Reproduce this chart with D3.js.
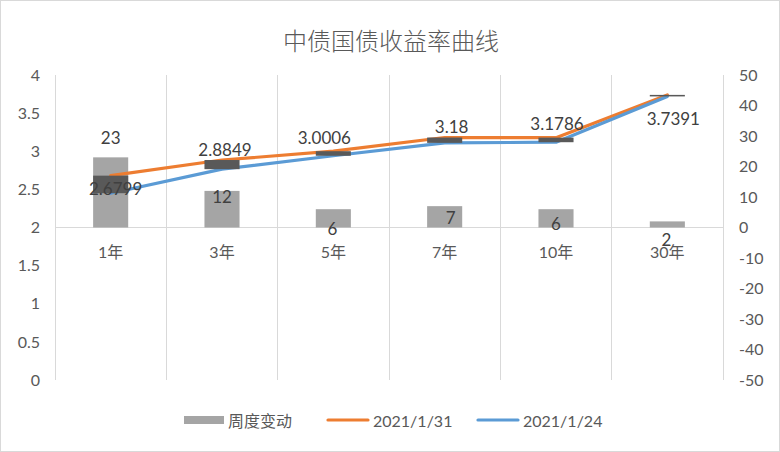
<!DOCTYPE html>
<html><head><meta charset="utf-8">
<script src="https://cdn.jsdelivr.net/npm/d3@7"></script>
<style>
html,body{margin:0;padding:0;background:#fff;}
text{font-family:Lato,"Noto Sans CJK SC",sans-serif;}
</style></head>
<body><svg id="c" width="780" height="452"></svg>
<script>
const categories = ["1年","3年","5年","7年","10年","30年"];
const weeklyChange = [23, 12, 6, 7, 6, 2];
const yield0131 = [2.6799, 2.8849, 3.0006, 3.18, 3.1786, 3.7391];
const yield0124 = [2.4499, 2.7649, 2.9406, 3.11, 3.1186, 3.7191];
const leftTicks = [0,0.5,1,1.5,2,2.5,3,3.5,4];
const rightTicks = [-50,-40,-30,-20,-10,0,10,20,30,40,50];
const seriesNames = ["周度变动","2021/1/31","2021/1/24"];
const title = "中债国债收益率曲线";

// label layout offsets (style, not data)
const lineLabelOffset = [[5,13],[3,-11],[-9,-14],[7,-11],[1,-14],[6,24]];
const barLabelOffset = [[0,-20],[0,6],[-1,19],[6,11],[0,14],[-1,18]];

const svg = d3.select("#c");
svg.append("rect").attr("x",0.5).attr("y",0.5).attr("width",779).attr("height",451)
  .attr("fill","#fff").attr("stroke","#d9d9d9");

const L=55, R=723, T=75, B=380;
const x = d3.scaleBand().domain(categories).range([L,R]).padding(0);
const yL = d3.scaleLinear().domain([0,4]).range([B,T]);
const yR = d3.scaleLinear().domain([-50,50]).range([B,T]);
const cx = c => x(c) + x.bandwidth()/2;
const bw = x.bandwidth()*0.315;
const grid="#d9d9d9", textC="#595959";
const fs = "16px";

// vertical gridlines at category boundaries
const bounds = categories.map(c=>x(c)).concat([R]);
svg.append("g").selectAll("line").data(bounds).join("line")
  .attr("x1",d=>d).attr("x2",d=>d).attr("y1",T).attr("y2",B)
  .attr("stroke",grid).attr("stroke-width",1).attr("shape-rendering","crispEdges");
// category axis line at right-axis 0
svg.append("line").attr("x1",L).attr("x2",R).attr("y1",yR(0)).attr("y2",yR(0))
  .attr("stroke",grid).attr("shape-rendering","crispEdges");

// left axis
const ga = svg.append("g").attr("transform",`translate(${L-15},0)`)
  .call(d3.axisLeft(yL).tickValues(leftTicks).tickSize(0).tickFormat(d=>String(d)));
ga.select(".domain").remove();
ga.selectAll("text").attr("fill",textC).style("font-size",fs).attr("x",0);
// right axis
const gr = svg.append("g").attr("transform",`translate(${R+16},0)`)
  .call(d3.axisRight(yR).tickValues(rightTicks).tickSize(0).tickFormat(d=>String(d)));
gr.select(".domain").remove();
gr.selectAll("text").attr("fill",textC).style("font-size",fs).attr("x",0);

// category labels
svg.append("g").selectAll("text").data(categories).join("text")
  .attr("x",d=>cx(d)).attr("y",yR(0)+24).attr("text-anchor","middle")
  .attr("dominant-baseline","central").attr("fill",textC).style("font-size",fs).text(d=>d);

// bars
svg.append("g").selectAll("rect").data(weeklyChange).join("rect")
  .attr("x",(d,i)=>cx(categories[i])-bw/2).attr("width",bw)
  .attr("y",d=>Math.min(yR(d),yR(0))).attr("height",d=>Math.abs(yR(d)-yR(0)))
  .attr("fill","#a5a5a5");

// lines
const line = d3.line().x((d,i)=>cx(categories[i])).y(d=>yL(d));
svg.append("path").datum(yield0131).attr("d",line).attr("fill","none")
  .attr("stroke","#ed7d31").attr("stroke-width",3.2).attr("stroke-linejoin","round").attr("stroke-linecap","round");
svg.append("path").datum(yield0124).attr("d",line).attr("fill","none")
  .attr("stroke","#5b9bd5").attr("stroke-width",3.2).attr("stroke-linejoin","round").attr("stroke-linecap","round");

// up/down bars
svg.append("g").selectAll("rect").data(yield0131).join("rect")
  .attr("x",(d,i)=>cx(categories[i])-bw/2).attr("width",bw)
  .attr("y",(d,i)=>Math.min(yL(d),yL(yield0124[i])))
  .attr("height",(d,i)=>Math.max(1.5,Math.abs(yL(d)-yL(yield0124[i]))))
  .attr("fill","#595959");

// bar labels
svg.append("g").selectAll("text").data(weeklyChange).join("text")
  .attr("x",(d,i)=>cx(categories[i])+barLabelOffset[i][0])
  .attr("y",(d,i)=>yR(d)+barLabelOffset[i][1])
  .attr("text-anchor","middle").attr("dominant-baseline","central")
  .attr("fill","#404040").style("font-size","17px").text(d=>d);

// line labels
svg.append("g").selectAll("text").data(yield0131).join("text")
  .attr("x",(d,i)=>cx(categories[i])+lineLabelOffset[i][0])
  .attr("y",(d,i)=>yL(d)+lineLabelOffset[i][1])
  .attr("text-anchor","middle").attr("dominant-baseline","central")
  .attr("fill","#404040").style("font-size","17px").text(d=>d);

// title
svg.append("text").attr("x",391).attr("y",40).attr("text-anchor","middle")
  .attr("dominant-baseline","central").attr("fill",textC).style("font-size","24px").style("font-weight","300").text(title);

// legend
const lg = svg.append("g");
lg.append("rect").attr("x",184).attr("y",416).attr("width",40).attr("height",8).attr("fill","#a5a5a5");
lg.append("text").attr("x",228).attr("y",420).attr("dominant-baseline","central").attr("fill",textC).style("font-size",fs).text(seriesNames[0]);
lg.append("line").attr("x1",328).attr("x2",368).attr("y1",420).attr("y2",420).attr("stroke","#ed7d31").attr("stroke-width",3.2).attr("stroke-linecap","round");
lg.append("text").attr("x",373).attr("y",420).attr("dominant-baseline","central").attr("fill",textC).style("font-size",fs).text(seriesNames[1]);
lg.append("line").attr("x1",478).attr("x2",518).attr("y1",420).attr("y2",420).attr("stroke","#5b9bd5").attr("stroke-width",3.2).attr("stroke-linecap","round");
lg.append("text").attr("x",523).attr("y",420).attr("dominant-baseline","central").attr("fill",textC).style("font-size",fs).text(seriesNames[2]);
</script></body></html>
